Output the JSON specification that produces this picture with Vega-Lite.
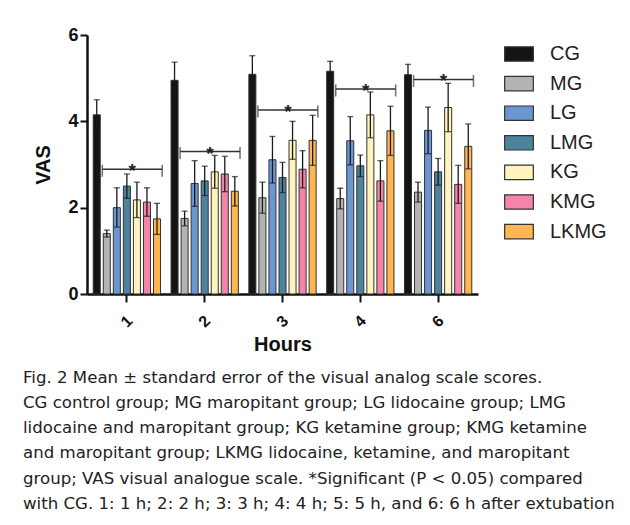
{
  "$schema": "https://vega.github.io/schema/vega-lite/v6.json",
  "width": 391,
  "height": 259,
  "autosize": "none",
  "padding": {"left": 87, "top": 35, "right": 152, "bottom": 231},
  "background": "white",
  "config": {"view": {"stroke": null}},
  "datasets": {
    "bars": [
      {"hour": "1", "group": "CG", "mean": 4.15, "lo": 3.80, "hi": 4.50},
      {"hour": "1", "group": "MG", "mean": 1.40, "lo": 1.32, "hi": 1.48},
      {"hour": "1", "group": "LG", "mean": 2.00, "lo": 1.55, "hi": 2.46},
      {"hour": "1", "group": "LMG", "mean": 2.50, "lo": 2.22, "hi": 2.78},
      {"hour": "1", "group": "KG", "mean": 2.18, "lo": 1.77, "hi": 2.59},
      {"hour": "1", "group": "KMG", "mean": 2.13, "lo": 1.80, "hi": 2.46},
      {"hour": "1", "group": "LKMG", "mean": 1.74, "lo": 1.38, "hi": 2.10},
      {"hour": "2", "group": "CG", "mean": 4.95, "lo": 4.53, "hi": 5.37},
      {"hour": "2", "group": "MG", "mean": 1.75, "lo": 1.58, "hi": 1.92},
      {"hour": "2", "group": "LG", "mean": 2.56, "lo": 2.03, "hi": 3.09},
      {"hour": "2", "group": "LMG", "mean": 2.62, "lo": 2.28, "hi": 2.96},
      {"hour": "2", "group": "KG", "mean": 2.83, "lo": 2.45, "hi": 3.21},
      {"hour": "2", "group": "KMG", "mean": 2.78, "lo": 2.37, "hi": 3.19},
      {"hour": "2", "group": "LKMG", "mean": 2.38, "lo": 2.04, "hi": 2.72},
      {"hour": "3", "group": "CG", "mean": 5.09, "lo": 4.66, "hi": 5.52},
      {"hour": "3", "group": "MG", "mean": 2.23, "lo": 1.87, "hi": 2.59},
      {"hour": "3", "group": "LG", "mean": 3.11, "lo": 2.57, "hi": 3.65},
      {"hour": "3", "group": "LMG", "mean": 2.70, "lo": 2.35, "hi": 3.05},
      {"hour": "3", "group": "KG", "mean": 3.56, "lo": 3.12, "hi": 4.00},
      {"hour": "3", "group": "KMG", "mean": 2.89, "lo": 2.46, "hi": 3.32},
      {"hour": "3", "group": "LKMG", "mean": 3.56, "lo": 2.98, "hi": 4.14},
      {"hour": "4", "group": "CG", "mean": 5.16, "lo": 4.93, "hi": 5.39},
      {"hour": "4", "group": "MG", "mean": 2.21, "lo": 1.97, "hi": 2.45},
      {"hour": "4", "group": "LG", "mean": 3.55, "lo": 2.99, "hi": 4.11},
      {"hour": "4", "group": "LMG", "mean": 2.97, "lo": 2.72, "hi": 3.22},
      {"hour": "4", "group": "KG", "mean": 4.15, "lo": 3.62, "hi": 4.68},
      {"hour": "4", "group": "KMG", "mean": 2.62, "lo": 2.15, "hi": 3.09},
      {"hour": "4", "group": "LKMG", "mean": 3.78, "lo": 3.21, "hi": 4.35},
      {"hour": "6", "group": "CG", "mean": 5.08, "lo": 4.84, "hi": 5.32},
      {"hour": "6", "group": "MG", "mean": 2.36, "lo": 2.13, "hi": 2.59},
      {"hour": "6", "group": "LG", "mean": 3.79, "lo": 3.25, "hi": 4.33},
      {"hour": "6", "group": "LMG", "mean": 2.83, "lo": 2.52, "hi": 3.14},
      {"hour": "6", "group": "KG", "mean": 4.32, "lo": 3.76, "hi": 4.88},
      {"hour": "6", "group": "KMG", "mean": 2.54, "lo": 2.10, "hi": 2.98},
      {"hour": "6", "group": "LKMG", "mean": 3.42, "lo": 2.90, "hi": 3.94}
    ],
    "sig": [
      {"hour": "1", "y": 2.89, "label": "*"},
      {"hour": "2", "y": 3.30, "label": "*"},
      {"hour": "3", "y": 4.26, "label": "*"},
      {"hour": "4", "y": 4.75, "label": "*"},
      {"hour": "6", "y": 4.97, "label": "*"}
    ]
  },
  "title": {
    "text": [
      "Fig. 2  Mean ± standard error of the visual analog scale scores.",
      "CG control group; MG maropitant group; LG lidocaine group; LMG",
      "lidocaine and maropitant group; KG ketamine group; KMG ketamine",
      "and maropitant group; LKMG lidocaine, ketamine, and maropitant",
      "group; VAS visual analogue scale. *Significant (P < 0.05) compared",
      "with CG. 1: 1 h; 2: 2 h; 3: 3 h; 4: 4 h; 5: 5 h, and 6: 6 h after extubation"
    ],
    "orient": "bottom",
    "anchor": "start",
    "frame": "group",
    "dx": -64,
    "offset": 15,
    "font": "DejaVu Sans",
    "fontSize": 16.6,
    "fontWeight": "normal",
    "lineHeight": 25.2,
    "color": "#222222"
  },
  "encoding": {
    "x": {
      "field": "hour",
      "type": "nominal",
      "scale": {"paddingInner": 0.135, "paddingOuter": 0.08},
      "axis": {
        "title": "Hours",
        "titleFont": "Liberation Sans",
        "titleFontSize": 20,
        "titleFontWeight": "bold",
        "titleColor": "#111111",
        "titlePadding": 5,
        "labelAngle": -45,
        "labelAlign": "center",
        "labelBaseline": "middle",
        "labelPadding": 19,
        "labelFont": "Liberation Sans",
        "labelFontSize": 16,
        "labelFontWeight": "bold",
        "labelColor": "#111111",
        "domainColor": "#111111",
        "domainWidth": 2.5,
        "tickColor": "#111111",
        "tickWidth": 2,
        "tickSize": 8
      }
    }
  },
  "layer": [
    {
      "data": {"name": "bars"},
      "mark": {"type": "bar", "stroke": "#333333", "strokeWidth": 1},
      "encoding": {
        "xOffset": {
          "field": "group",
          "type": "nominal",
          "sort": ["CG", "MG", "LG", "LMG", "KG", "KMG", "LKMG"],
          "scale": {"paddingInner": 0.3, "paddingOuter": 0}
        },
        "y": {
          "field": "mean",
          "type": "quantitative",
          "scale": {"domain": [0, 6], "nice": false},
          "axis": {
            "title": "VAS",
            "titleFont": "Liberation Sans",
            "titleFontSize": 20,
            "titleFontWeight": "bold",
            "titleColor": "#111111",
            "titlePadding": 14,
            "values": [0, 2, 4, 6],
            "grid": false,
            "labelFont": "Liberation Sans",
            "labelFontSize": 18,
            "labelFontWeight": "bold",
            "labelColor": "#111111",
            "labelPadding": 2,
            "domainColor": "#111111",
            "domainWidth": 2.5,
            "tickColor": "#111111",
            "tickWidth": 2,
            "tickSize": 7
          }
        },
        "color": {
          "field": "group",
          "type": "nominal",
          "sort": ["CG", "MG", "LG", "LMG", "KG", "KMG", "LKMG"],
          "scale": {
            "domain": ["CG", "MG", "LG", "LMG", "KG", "KMG", "LKMG"],
            "range": ["#141414", "#b3b3b3", "#6b96d2", "#4d839c", "#fff4bd", "#f585a8", "#ffb550"]
          },
          "legend": {
            "title": null,
            "orient": "none",
            "legendX": 417,
            "legendY": 4,
            "padding": 0,
            "symbolType": "M-1,-0.5H1V0.5H-1Z",
            "symbolSize": 824,
            "symbolStrokeColor": "#333333",
            "symbolStrokeWidth": 1.2,
            "symbolOpacity": 1,
            "labelFont": "Liberation Sans",
            "labelFontSize": 20,
            "labelColor": "#222222",
            "labelOffset": 16,
            "rowPadding": 4.6
          }
        }
      }
    },
    {
      "data": {"name": "bars"},
      "mark": {"type": "rule", "color": "#1a1a1a", "strokeWidth": 1.3},
      "encoding": {
        "xOffset": {"field": "group", "type": "nominal", "sort": ["CG", "MG", "LG", "LMG", "KG", "KMG", "LKMG"]},
        "y": {"field": "lo", "type": "quantitative"},
        "y2": {"field": "hi"}
      }
    },
    {
      "data": {"name": "bars"},
      "mark": {"type": "tick", "orient": "horizontal", "color": "#1a1a1a", "size": 6, "thickness": 1.3},
      "encoding": {
        "xOffset": {"field": "group", "type": "nominal", "sort": ["CG", "MG", "LG", "LMG", "KG", "KMG", "LKMG"]},
        "y": {"field": "hi", "type": "quantitative"}
      }
    },
    {
      "data": {"name": "bars"},
      "mark": {"type": "tick", "orient": "horizontal", "color": "#1a1a1a", "size": 6, "thickness": 1.3},
      "encoding": {
        "xOffset": {"field": "group", "type": "nominal", "sort": ["CG", "MG", "LG", "LMG", "KG", "KMG", "LKMG"]},
        "y": {"field": "lo", "type": "quantitative"}
      }
    },
    {
      "data": {"name": "sig"},
      "mark": {"type": "rule", "color": "#333333", "strokeWidth": 1.5},
      "encoding": {
        "x": {"field": "hour", "type": "nominal", "bandPosition": 0.135},
        "x2": {"field": "hour", "bandPosition": 1.025},
        "y": {"field": "y", "type": "quantitative"}
      }
    },
    {
      "data": {"name": "sig"},
      "mark": {"type": "tick", "orient": "vertical", "color": "#333333", "size": 12, "thickness": 1.5, "yOffset": 1.5},
      "encoding": {
        "x": {"field": "hour", "type": "nominal", "bandPosition": 0.135},
        "y": {"field": "y", "type": "quantitative"}
      }
    },
    {
      "data": {"name": "sig"},
      "mark": {"type": "tick", "orient": "vertical", "color": "#333333", "size": 12, "thickness": 1.5, "yOffset": 1.5},
      "encoding": {
        "x": {"field": "hour", "type": "nominal", "bandPosition": 1.025},
        "y": {"field": "y", "type": "quantitative"}
      }
    },
    {
      "data": {"name": "sig"},
      "mark": {"type": "text", "font": "Liberation Sans", "fontSize": 19, "fontWeight": "bold", "color": "#222222", "baseline": "alphabetic", "dy": 8},
      "encoding": {
        "x": {"field": "hour", "type": "nominal", "bandPosition": 0.58},
        "y": {"field": "y", "type": "quantitative"},
        "text": {"field": "label"}
      }
    }
  ]
}
